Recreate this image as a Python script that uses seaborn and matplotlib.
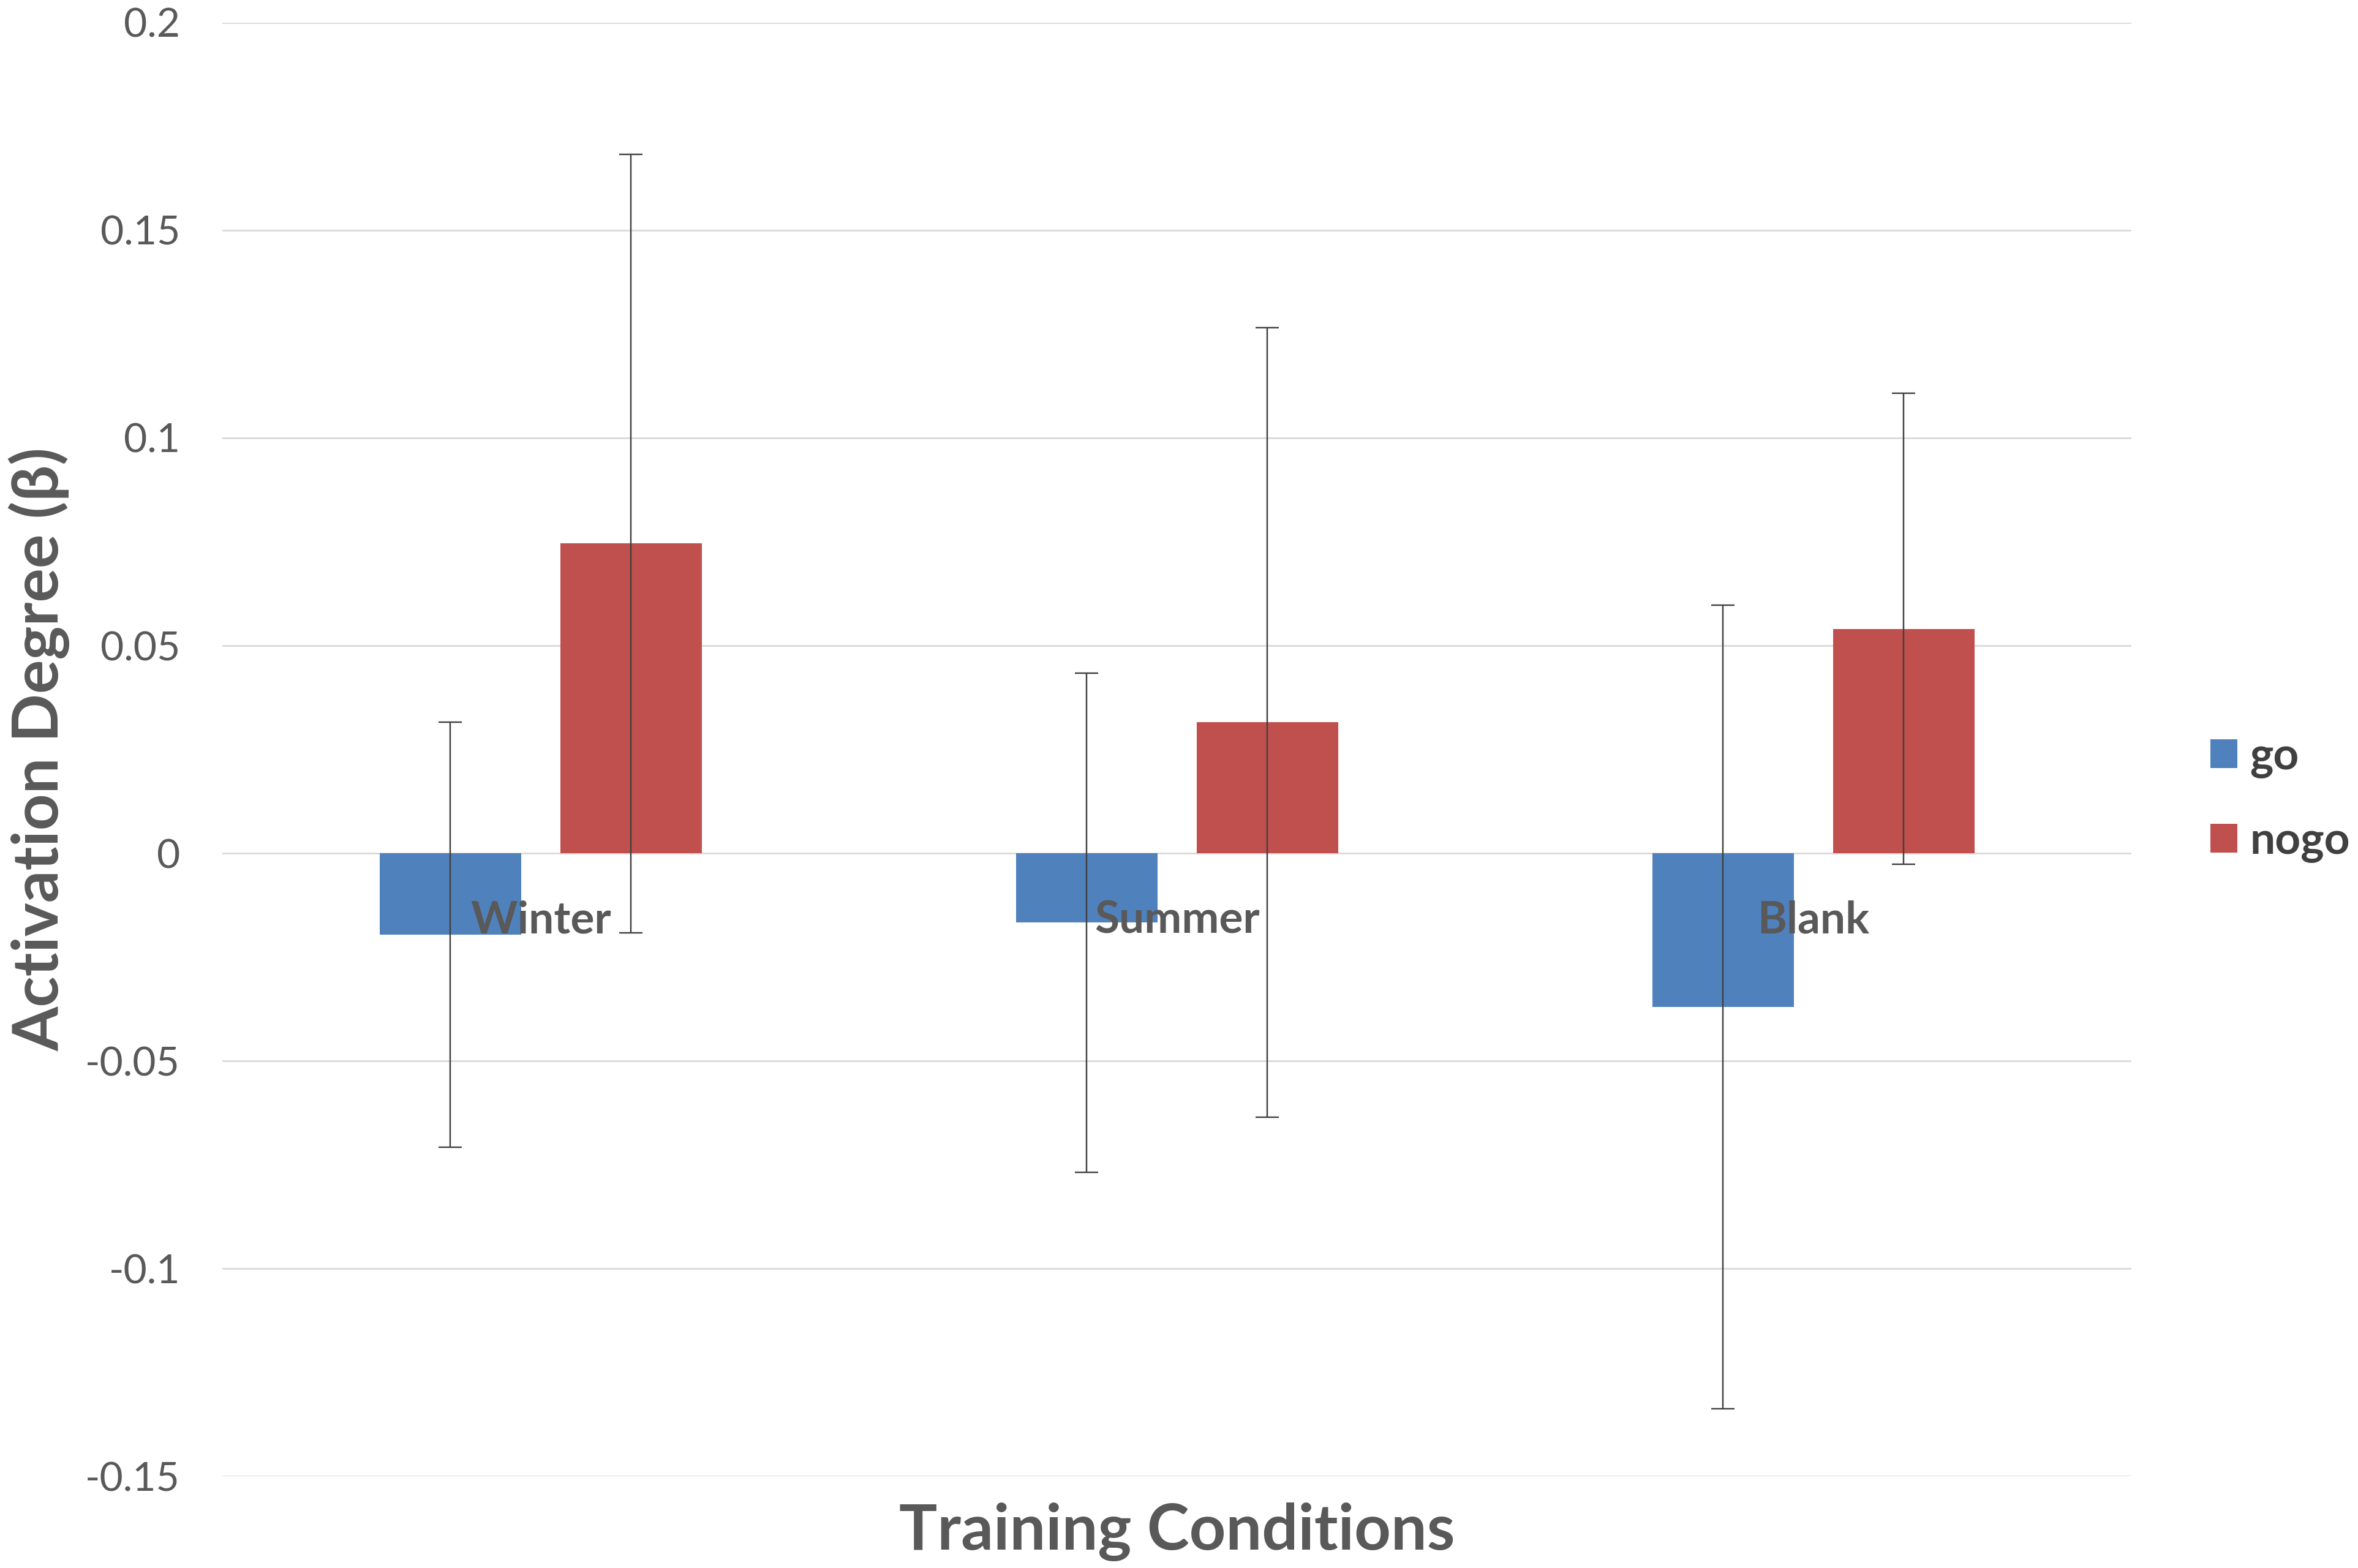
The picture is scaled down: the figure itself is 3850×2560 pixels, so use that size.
import numpy as np
import pandas as pd
import matplotlib
matplotlib.use('Agg')
import matplotlib.pyplot as plt
import seaborn as sns

# values
conditions = ['Winter', 'Summer', 'Blank']
go_mean = [-0.0196, -0.0167, -0.0370]
nogo_mean = [0.0746, 0.0315, 0.0540]
go_err = [0.0511, 0.0601, 0.0967]
nogo_err = [0.0937, 0.0951, 0.0567]

ytick_values = [-0.15, -0.1, -0.05, 0, 0.05, 0.1, 0.15, 0.2]
ytick_labels = ['-0.15', '-0.1', '-0.05', '0', '0.05', '0.1', '0.15', '0.2']

df = pd.DataFrame({
    'condition': conditions * 2,
    'type': ['go'] * 3 + ['nogo'] * 3,
    'beta': go_mean + nogo_mean,
})
errors = {'go': go_err, 'nogo': nogo_err}

sns.set_theme(style='white')
plt.rcParams['font.family'] = ['Lato', 'DejaVu Sans']

fig, ax = plt.subplots(figsize=(15.4, 10.24), dpi=250)
fig.subplots_adjust(left=0.0944, right=0.904, top=0.9856, bottom=0.0585)

sns.barplot(data=df, x='condition', y='beta', hue='type',
            palette={'go': '#4F81BD', 'nogo': '#C0504D'},
            width=0.568, gap=0.218, errorbar=None, saturation=1,
            linewidth=0, ax=ax, zorder=3)

# error bars on top of each bar
for container, level in zip(ax.containers, ['go', 'nogo']):
    xs = [b.get_x() + b.get_width() / 2 for b in container]
    ys = [b.get_y() + b.get_height() for b in container]
    ax.errorbar(xs, ys, yerr=errors[level], fmt='none', ecolor='#404040',
                elinewidth=0.7, capsize=5.5, capthick=0.7, zorder=4)

ax.set_ylim(-0.15, 0.2)
ax.set_xlim(-0.5, 2.5)
ax.set_yticks(ytick_values)
ax.set_yticklabels(ytick_labels)
ax.yaxis.grid(True, color='#d9d9d9', linewidth=0.8)
ax.set_axisbelow(True)
# category names sit on the zero line, drawn over the bars
ax.xaxis.set_zorder(5)

sns.despine(ax=ax, left=True, bottom=True)
ax.spines['bottom'].set_position(('data', 0))

ax.tick_params(axis='y', length=0, pad=20, labelsize=19, labelcolor='#595959')
ax.tick_params(axis='x', length=0, pad=22, labelsize=21, labelcolor='#595959')
for lab in ax.get_xticklabels():
    lab.set_fontweight('bold')

ax.set_xlabel('Training Conditions', fontsize=30, fontweight='bold', color='#595959')
ax.set_ylabel('Activation Degree (β)', fontsize=30, fontweight='bold', color='#595959')
ax.xaxis.set_label_coords(0.5, -0.018)
ax.yaxis.set_label_coords(-0.080, 0.5)

sns.move_legend(ax, 'center left', bbox_to_anchor=(0.9375, 0.49),
                bbox_transform=fig.transFigure, title=None, frameon=False,
                borderaxespad=0, borderpad=0, handlelength=0.6, handleheight=0.6,
                handletextpad=0.28, labelspacing=0.95,
                prop={'size': 21, 'weight': 'bold'})
for t in ax.get_legend().get_texts():
    t.set_color('#404040')

plt.savefig('out.png', dpi=250)
